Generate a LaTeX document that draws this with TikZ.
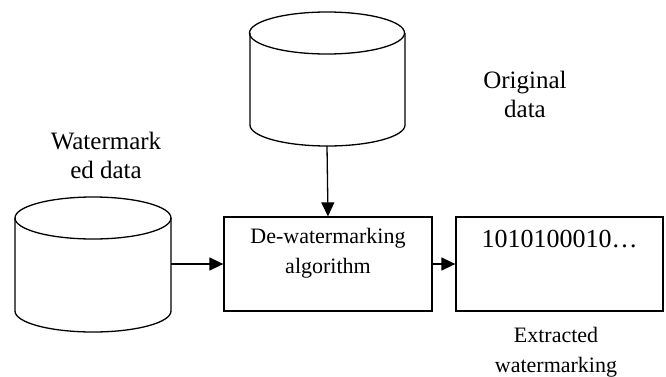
\documentclass[tikz,border=0pt]{standalone}
\usepackage{fontspec}
\setmainfont{Liberation Serif}
\usetikzlibrary{arrows.meta, positioning}

\begin{document}
\begin{tikzpicture}[x = 1pt, y = 1pt, line width = 1.3pt, font = \rmfamily,
    box/.style = {draw, minimum width = 208pt, minimum height = 94pt, inner sep = 0pt},
    tag/.style = {align = center, font = \rmfamily\fontsize{25}{29}\selectfont},
    arr/.style = {-{Triangle[length = 14pt, width = 13pt]}}]
    \useasboundingbox (0,0) rectangle (666,376);
    % original data store
    \draw (250,343) -- (250,251) arc [start angle = 180, end angle = 360, x radius = 77.5pt, y radius = 21pt] -- (405,343);
    \draw (327,343) ellipse [x radius = 77.5pt, y radius = 21pt];
    \coordinate (origbot) at (327,230);
    \node (origtag) [tag] at (525,282) {Original\\data};
    % watermarked data store
    \draw (15,158) -- (15,65) arc [start angle = 180, end angle = 360, x radius = 78pt, y radius = 21pt] -- (171,158);
    \draw (93,158) ellipse [x radius = 78pt, y radius = 21pt];
    \coordinate (wmright) at (171,112);
    \node (wmtag) [tag] at (106,221) {Watermark\\ed data};
    % boxes
    \node (algo) [box] at (328,112) {};
    \node (algotext) [align = center, font = \rmfamily\fontsize{22}{30}\selectfont, below = 8pt of algo.north] {De-watermarking\\algorithm};
    \node (bits) [box, minimum width = 207pt] at (559.5,112) {};
    \node (bitstext) [font = \rmfamily\fontsize{26}{30}\selectfont, below = 10pt of bits.north] {1010100010\dots};
    \node (bitstag) [align = center, font = \rmfamily\fontsize{22}{30}\selectfont] at (556,24) {Extracted\\watermarking};
    % arrows
    \draw [arr] (origbot) -- (algo.north);
    \draw [arr] (wmright) -- (algo.west);
    \draw [arr] (algo.east) -- (bits.west);
\end{tikzpicture}
\end{document}
